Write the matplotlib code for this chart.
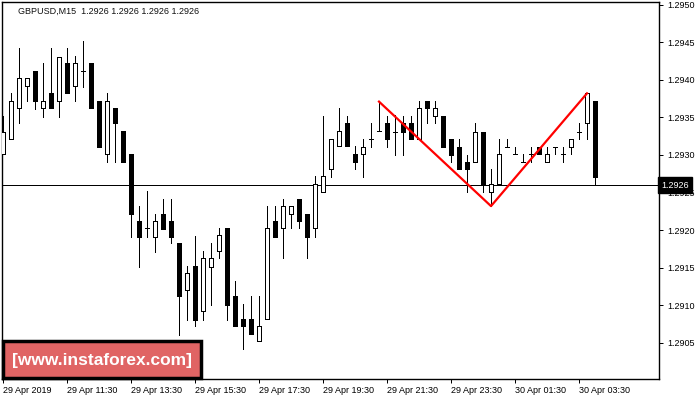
import matplotlib
matplotlib.use("Agg")
import matplotlib.pyplot as plt
from matplotlib.patches import Rectangle

# GBPUSD M15 candles (bar index 0 = 29 Apr 09:30)
opens = [1.29301, 1.29321, 1.29362, 1.29392, 1.29412, 1.29362, 1.29382, 1.29372, 1.29422, 1.29392,
         1.29412, 1.29422, 1.29372, 1.29301, 1.29362, 1.29332, 1.29301, 1.29212, 1.29203, 1.29191,
         1.29222, 1.29212, 1.29183, 1.29121, 1.29152, 1.29092, 1.29151, 1.29172, 1.29203, 1.29112,
         1.29082, 1.29082, 1.29052, 1.29082, 1.29212, 1.29203, 1.29222, 1.29242, 1.29222, 1.29203,
         1.29251, 1.29281, 1.29312, 1.29342, 1.29301, 1.29301, 1.29321, 1.29332, 1.29342, 1.29331,
         1.29342, 1.29342, 1.29321, 1.29372, 1.29352, 1.29352, 1.29321, 1.29311, 1.29291, 1.29291,
         1.29331, 1.29251, 1.29261, 1.29311, 1.29301, 1.29291, 1.29301, 1.29311, 1.29291, 1.29311,
         1.29301, 1.29311, 1.29331, 1.29342, 1.29372]
highs = [1.29352, 1.29383, 1.29442, 1.29402, 1.29412, 1.29423, 1.29442, 1.29431, 1.29442, 1.29432,
         1.29452, 1.29422, 1.29372, 1.29383, 1.29362, 1.29332, 1.29301, 1.29232, 1.29252, 1.29222,
         1.29242, 1.29242, 1.29183, 1.29152, 1.29192, 1.29172, 1.29183, 1.29203, 1.29203, 1.29132,
         1.29102, 1.29112, 1.29112, 1.29232, 1.29232, 1.29242, 1.29232, 1.29242, 1.29222, 1.29272,
         1.29352, 1.29321, 1.29362, 1.29352, 1.29312, 1.29321, 1.29342, 1.29371, 1.29352, 1.29353,
         1.29352, 1.29352, 1.29372, 1.29372, 1.29372, 1.29352, 1.29321, 1.29321, 1.29300, 1.29342,
         1.29331, 1.29281, 1.29321, 1.29321, 1.29311, 1.29301, 1.29311, 1.29311, 1.29311, 1.29311,
         1.29311, 1.29311, 1.29342, 1.29382, 1.29372]
lows = [1.29301, 1.29321, 1.29342, 1.29372, 1.29361, 1.29351, 1.29362, 1.29351, 1.29382, 1.29372,
        1.29391, 1.29362, 1.29311, 1.29291, 1.29291, 1.29291, 1.29191, 1.29151, 1.29191, 1.29171,
        1.29202, 1.29183, 1.29061, 1.29081, 1.29072, 1.29081, 1.29101, 1.29163, 1.29081, 1.29072,
        1.29042, 1.29062, 1.29052, 1.29082, 1.29191, 1.29163, 1.29203, 1.29203, 1.29163, 1.29191,
        1.29251, 1.29271, 1.29312, 1.29312, 1.29281, 1.29271, 1.29311, 1.29332, 1.29311, 1.29300,
        1.29300, 1.29321, 1.29321, 1.29342, 1.29342, 1.29311, 1.29291, 1.29281, 1.29251, 1.29291,
        1.29251, 1.29232, 1.29261, 1.29311, 1.29301, 1.29291, 1.29291, 1.29301, 1.29291, 1.29301,
        1.29291, 1.29301, 1.29321, 1.29321, 1.29261]
closes = [1.29331, 1.29372, 1.29402, 1.29402, 1.29372, 1.29372, 1.29362, 1.29431, 1.29382, 1.29422,
          1.29412, 1.29362, 1.29311, 1.29372, 1.29342, 1.29291, 1.29222, 1.29191, 1.29203, 1.29212,
          1.29202, 1.29191, 1.29112, 1.29143, 1.29081, 1.29163, 1.29163, 1.29193, 1.29101, 1.29072,
          1.29072, 1.29062, 1.29072, 1.29203, 1.29191, 1.29232, 1.29232, 1.29212, 1.29191, 1.29261,
          1.29272, 1.29321, 1.29332, 1.29312, 1.29291, 1.29311, 1.29321, 1.29332, 1.29321, 1.29331,
          1.29331, 1.29321, 1.29362, 1.29362, 1.29362, 1.29311, 1.29300, 1.29281, 1.29281, 1.29331,
          1.29261, 1.29261, 1.29301, 1.29311, 1.29301, 1.29291, 1.29301, 1.29301, 1.29301, 1.29311,
          1.29301, 1.29321, 1.29331, 1.29382, 1.29271]

# double top / bottom pattern drawn in red: (bar index, which price)
pattern_bars = [47, 61, 73]
pattern_prices = [highs[47], lows[61], highs[73]]

current_price = 1.2926
title = "GBPUSD,M15  1.2926 1.2926 1.2926 1.2926"

xtick_pos = [0, 8, 16, 24, 32, 40, 48, 56, 64, 72]
xtick_labels = ["29 Apr 2019", "29 Apr 11:30", "29 Apr 13:30", "29 Apr 15:30", "29 Apr 17:30",
                "29 Apr 19:30", "29 Apr 21:30", "29 Apr 23:30", "30 Apr 01:30", "30 Apr 03:30"]
ytick_pos = [1.2905, 1.2910, 1.2915, 1.2920, 1.2925, 1.2930, 1.2935, 1.2940, 1.2945, 1.2950]

plt.rcParams['font.family'] = ['Liberation Sans', 'DejaVu Sans']

fig = plt.figure(figsize=(7, 4), dpi=100)
ax = fig.add_axes([2/700, 21/400, 657/700, 377/400])

lw = 0.72  # one pixel at 100 dpi

# candles
for i in range(len(opens)):
    o, h, l, c = opens[i], highs[i], lows[i], closes[i]
    ax.vlines(i, l, h, color='black', linewidth=lw, antialiased=False, zorder=2)
    if c > o:
        ax.bar(i, c - o, bottom=o, width=0.55, facecolor='white', edgecolor='black',
               linewidth=lw, antialiased=False, zorder=3)
    elif c < o:
        ax.bar(i, o - c, bottom=c, width=0.55, facecolor='black', edgecolor='black',
               linewidth=lw, antialiased=False, zorder=3)
    else:
        ax.hlines(o, i - 0.3, i + 0.3, color='black', linewidth=lw, antialiased=False, zorder=3)

# current price line
ax.axhline(current_price, color='black', linewidth=lw, zorder=1)

# pattern
ax.plot(pattern_bars, pattern_prices, color='red', linewidth=1.6, zorder=4)

ax.set_xlim(-0.125, 82)
ax.set_ylim(1.29002, 1.295035)

ax.set_xticks(xtick_pos)
ax.set_xticklabels(xtick_labels, ha='left', fontsize=6.5)
ax.tick_params(axis='x', direction='out', length=3, width=lw, pad=2)
ax.yaxis.tick_right()
ax.set_yticks(ytick_pos)
ax.set_yticklabels([f"{p:.4f}" for p in ytick_pos], fontsize=6.5)
ax.tick_params(axis='y', direction='out', length=3, width=lw, pad=3)
for s in ax.spines.values():
    s.set_linewidth(1)

ax.text(0.024, 0.987, title, transform=ax.transAxes, fontsize=6.5, va='top', ha='left', color='#101010')

# current price label on the price scale
ax.text(1.004, current_price, f"{current_price:.4f}", transform=ax.get_yaxis_transform(),
        fontsize=6.5, color='white', va='center', ha='left', clip_on=False, zorder=10,
        bbox=dict(boxstyle='square,pad=0.35', facecolor='black', edgecolor='black'))

# watermark
fig.add_artist(Rectangle((3/700, 22/400), 198/700, 37/400, transform=fig.transFigure,
                         facecolor='#e06464', edgecolor='black', linewidth=2.5, zorder=20))
fig.text(102/700, 40/400, "[www.instaforex.com]", ha='center', va='center', color='white',
         fontsize=12.5, fontweight='bold', zorder=21)

fig.savefig("out.png", dpi=100)
